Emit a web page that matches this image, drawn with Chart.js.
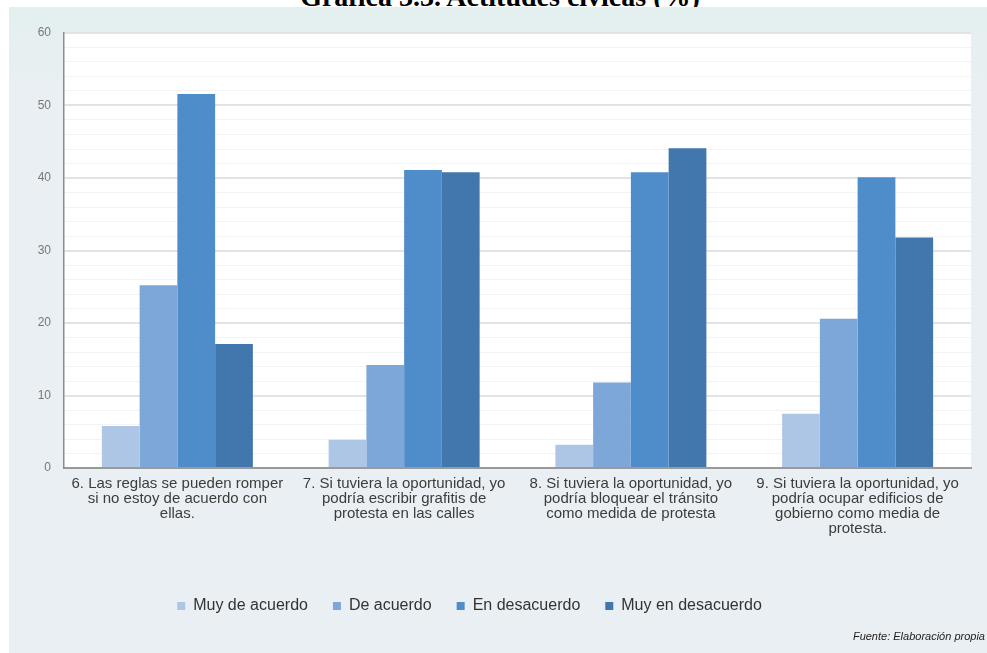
<!DOCTYPE html>
<html lang="es">
<head>
<meta charset="utf-8">
<title>Actitudes cívicas</title>
<script src="https://cdn.jsdelivr.net/npm/chart.js@4.4.1/dist/chart.umd.min.js"></script>
<style>
  html, body { margin: 0; padding: 0; }
  body {
    width: 987px; height: 653px; overflow: hidden; position: relative;
    background: #fff; font-family: "Liberation Sans", Arial, sans-serif;
  }
  #title {
    position: absolute; top: -17px; left: 13px; width: 974px; text-align: center;
    font: bold 28px/28px "Liberation Serif", "Times New Roman", serif; color: #000;
    white-space: nowrap; z-index: 0;
  }
  #panel {
    position: absolute; left: 9px; top: 7px; right: 0; bottom: 0; z-index: 1;
    background: linear-gradient(#e4eff0, #e9eff2 12%, #eaeff3);
  }
  #wrap { position: absolute; left: 0; top: 0; width: 987px; height: 653px; z-index: 2; }
  #source {
    position: absolute; right: 2px; top: 630px; z-index: 3;
    font: italic 11px "Liberation Sans", Arial, sans-serif; color: #222;
  }
</style>
</head>
<body>
<div id="title">Gráfica 3.3. Actitudes cívicas (%)</div>
<div id="panel"></div>
<div id="wrap"><canvas id="chart" width="987" height="653"></canvas></div>
<div id="source">Fuente: Elaboración propia</div>

<script>
'use strict';

// Statements (x axis), wrapped the way they are printed
const statements = [
    ['6. Las reglas se pueden romper', 'si no estoy de acuerdo con', 'ellas.'],
    ['7. Si tuviera la oportunidad, yo', 'podría escribir grafitis de', 'protesta en las calles'],
    ['8. Si tuviera la oportunidad, yo', 'podría bloquear el tránsito', 'como medida de protesta'],
    ['9. Si tuviera la oportunidad, yo', 'podría ocupar edificios de', 'gobierno como media de', 'protesta.']
];

// Answer shares, in percent
const muyDeAcuerdo    = [5.8, 3.9, 3.2, 7.5];
const deAcuerdo       = [25.2, 14.2, 11.8, 20.6];
const enDesacuerdo    = [51.6, 41.1, 40.8, 40.1];
const muyEnDesacuerdo = [17.1, 40.8, 44.1, 31.8];

const yTicks = [0, 10, 20, 30, 40, 50, 60];

const FONT = '"Liberation Sans", Arial, sans-serif';

// White plot background on top of the grey panel
const plotBackground = {
    id: 'plotBackground',
    beforeDraw(chart) {
        const { ctx, chartArea: a } = chart;
        ctx.save();
        ctx.fillStyle = '#ffffff';
        ctx.fillRect(a.left, a.top, a.right - a.left, a.bottom - a.top);
        ctx.restore();
    }
};

// Legend sits a little left of the canvas centre
const legendShift = {
    id: 'legendShift',
    afterLayout(chart) {
        if (chart.legend) {
            chart.legend.left -= 16;
            chart.legend.right -= 16;
        }
    }
};

function series(label, data, color) {
    return {
        label: label,
        data: data,
        backgroundColor: color,
        borderWidth: 0,
        categoryPercentage: 0.666,
        barPercentage: 1.0
    };
}

const ctx = document.getElementById('chart');

new Chart(ctx, {
    type: 'bar',
    data: {
        labels: statements,
        datasets: [
            series('Muy de acuerdo', muyDeAcuerdo, '#aec6e6'),
            series('De acuerdo', deAcuerdo, '#7ea7d9'),
            series('En desacuerdo', enDesacuerdo, '#4f8cca'),
            series('Muy en desacuerdo', muyEnDesacuerdo, '#4277ad')
        ]
    },
    options: {
        responsive: false,
        animation: false,
        devicePixelRatio: 1,
        layout: { padding: { left: 0, right: 16, top: 33, bottom: 29 } },
        plugins: {
            legend: {
                position: 'bottom',
                labels: {
                    boxWidth: 8,
                    boxHeight: 8,
                    padding: 25,
                    color: '#333',
                    font: { family: FONT, size: 16 }
                }
            },
            tooltip: { enabled: false }
        },
        scales: {
            x: {
                grid: { display: false },
                border: { display: true, color: '#9a9a9a', width: 2 },
                ticks: {
                    color: '#3c3c3c',
                    padding: 0,
                    maxRotation: 0,
                    autoSkip: false,
                    font: { family: FONT, size: 15, lineHeight: 1.0 }
                },
                afterFit(scale) { scale.height = 105; }
            },
            y: {
                min: 0,
                max: 60,
                ticks: {
                    stepSize: 2,
                    autoSkip: false,
                    padding: 13,
                    color: '#777',
                    font: { family: FONT, size: 12 },
                    callback: v => (yTicks.includes(v) ? v : '')
                },
                grid: {
                    drawTicks: false,
                    color: c => (c.tick.value % 10 === 0 ? '#e3e3e3' : '#f3f3f3'),
                    lineWidth: c => (c.tick.value % 10 === 0 ? 2 : 1)
                },
                border: { display: true, color: '#8c8c8c', width: 1.5 },
                afterFit(scale) { scale.width = 64; }
            }
        }
    },
    plugins: [plotBackground, legendShift]
});
</script>
</body>
</html>
